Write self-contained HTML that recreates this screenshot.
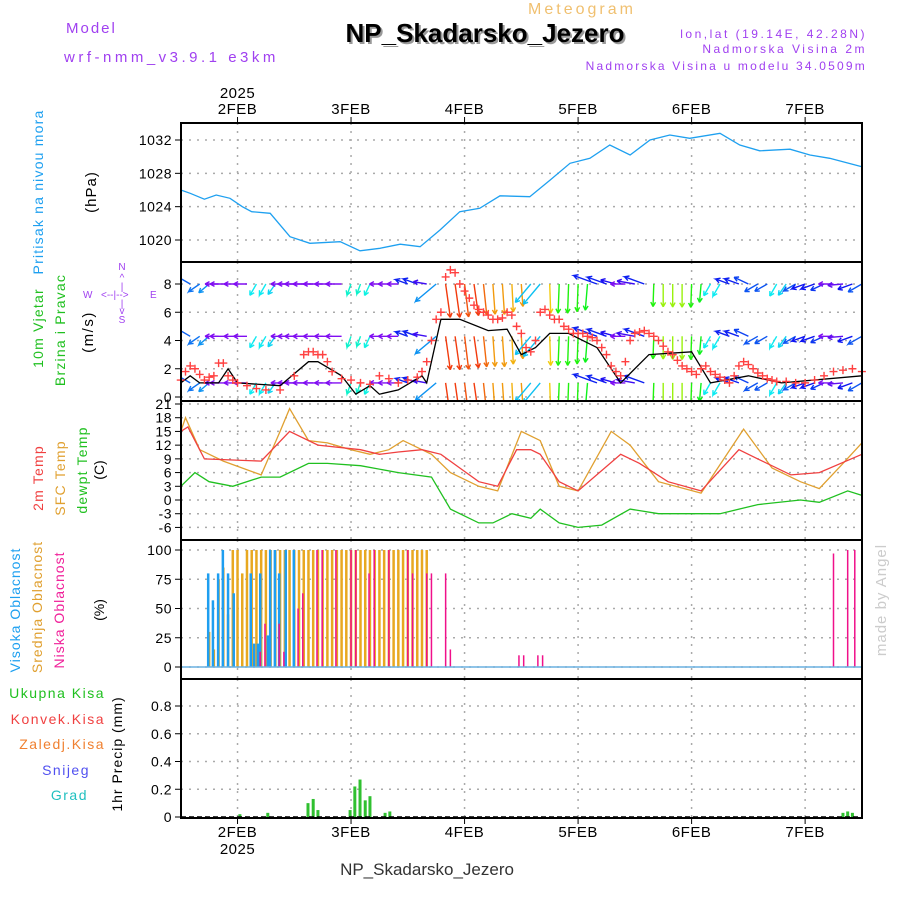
<!DOCTYPE html>
<html><head><meta charset="utf-8">
<style>
body{margin:0;background:#fff;width:900px;height:900px;overflow:hidden;font-family:"Liberation Sans",sans-serif}
svg text{font-family:"Liberation Sans",sans-serif}
</style></head>
<body>
<svg id="chart" width="900" height="900" xmlns="http://www.w3.org/2000/svg">
<text x="582" y="14" fill="#f0c070" font-size="16" text-anchor="middle" letter-spacing="3">Meteogram</text>
<text x="487" y="44" fill="#999" font-size="26" font-weight="bold" text-anchor="middle" font-family="Liberation Mono">NP_Skadarsko_Jezero</text>
<text x="485" y="42" fill="#000" font-size="26" font-weight="bold" text-anchor="middle" font-family="Liberation Mono">NP_Skadarsko_Jezero</text>
<text x="66" y="33" fill="#a040f0" font-size="15" letter-spacing="2">Model</text>
<text x="64" y="62" fill="#a040f0" font-size="15" letter-spacing="3.5">wrf-nmm_v3.9.1 e3km</text>
<text x="867" y="38" fill="#a040f0" font-size="12" text-anchor="end" letter-spacing="2.5">lon,lat (19.14E, 42.28N)</text>
<text x="867" y="53" fill="#a040f0" font-size="12" text-anchor="end" letter-spacing="2.5">Nadmorska Visina 2m</text>
<text x="867" y="70" fill="#a040f0" font-size="12" text-anchor="end" letter-spacing="2.2">Nadmorska Visina u modelu 34.0509m</text>
<text x="427" y="875" fill="#333" font-size="17" text-anchor="middle" font-family="Liberation Mono">NP_Skadarsko_Jezero</text>
<text transform="translate(886,600) rotate(-90)" fill="#ccc" font-size="15" text-anchor="middle" font-family="Liberation Serif" letter-spacing="1">made by Angel</text>

<text transform="translate(43,192) rotate(-90)" fill="#1ea0f0" font-size="14" text-anchor="middle" letter-spacing="1.2">Pritisak na nivou mora</text>
<text transform="translate(96,192) rotate(-90)" fill="#000" font-size="15" text-anchor="middle" letter-spacing="1">(hPa)</text>
<text transform="translate(43,328) rotate(-90)" fill="#20c020" font-size="14" text-anchor="middle" letter-spacing="1.2">10m Vjetar</text>
<text transform="translate(65,330) rotate(-90)" fill="#20c020" font-size="14" text-anchor="middle" letter-spacing="1.2">Brzina i Pravac</text>
<text transform="translate(93,332) rotate(-90)" fill="#000" font-size="15" text-anchor="middle" letter-spacing="1.5">(m/s)</text>
<g fill="#a040f0" font-size="10">
<text x="122" y="270" text-anchor="middle">N</text>
<text x="122" y="281" text-anchor="middle">^</text>
<text x="122" y="290" text-anchor="middle">|</text>
<text x="83" y="298">W</text>
<text x="101" y="298">&lt;--|--&gt;</text>
<text x="150" y="298">E</text>
<text x="122" y="307" text-anchor="middle">|</text>
<text x="122" y="314" text-anchor="middle">v</text>
<text x="122" y="323" text-anchor="middle">S</text>
</g>
<text transform="translate(43,478) rotate(-90)" fill="#f04040" font-size="14" text-anchor="middle" letter-spacing="1.2">2m Temp</text>
<text transform="translate(65,478) rotate(-90)" fill="#e0a030" font-size="14" text-anchor="middle" letter-spacing="1.2">SFC Temp</text>
<text transform="translate(87,470) rotate(-90)" fill="#20c020" font-size="14" text-anchor="middle" letter-spacing="1.2">dewpt Temp</text>
<text transform="translate(104,470) rotate(-90)" fill="#000" font-size="14" text-anchor="middle">(C)</text>
<text transform="translate(20,610) rotate(-90)" fill="#1ea0f0" font-size="14" text-anchor="middle" letter-spacing="1">Visoka Oblacnost</text>
<text transform="translate(42,607) rotate(-90)" fill="#e0a030" font-size="14" text-anchor="middle" letter-spacing="1">Srednja Oblacnost</text>
<text transform="translate(64,610) rotate(-90)" fill="#f0209a" font-size="14" text-anchor="middle" letter-spacing="1">Niska Oblacnost</text>
<text transform="translate(104,610) rotate(-90)" fill="#000" font-size="14" text-anchor="middle">(%)</text>
<text x="105" y="698" fill="#20c020" font-size="14" text-anchor="end" letter-spacing="1.5">Ukupna Kisa</text>
<text x="105" y="724" fill="#f04040" font-size="14" text-anchor="end" letter-spacing="1.5">Konvek.Kisa</text>
<text x="105" y="749" fill="#f08030" font-size="14" text-anchor="end" letter-spacing="1.5">Zaledj.Kisa</text>
<text x="90" y="775" fill="#5050f0" font-size="14" text-anchor="end" letter-spacing="1.5">Snijeg</text>
<text x="88" y="800" fill="#20c0c0" font-size="14" text-anchor="end" letter-spacing="1.5">Grad</text>
<text transform="translate(122,754) rotate(-90)" fill="#000" font-size="14" text-anchor="middle" letter-spacing="1">1hr Precip (mm)</text>
<g id="g"></g>
</svg>
<script>
// ---- data (hours from 1FEB 00Z) ----
const dayLabels=["2FEB","3FEB","4FEB","5FEB","6FEB","7FEB"];
const dayHours=[24,48,72,96,120,144];
const presHours=[12,14,17,19.5,22.4,25,27,30.9,35.1,39.3,45.7,49.9,54.1,58.4,62.6,66.8,71.0,75.2,79.5,85.8,90.1,94.3,98.5,102.7,107.0,111.2,115.4,119.6,126.0,130.2,134.4,140.8,145.0,149.2,156];
const presVals=[1026.0,1025.6,1024.9,1025.4,1025.0,1024.0,1023.4,1023.2,1020.4,1019.6,1019.8,1018.7,1019.0,1019.5,1019.2,1021.2,1023.4,1023.8,1025.3,1025.2,1027.2,1029.2,1029.8,1031.4,1030.2,1032.0,1032.6,1032.2,1032.8,1031.4,1030.7,1030.9,1030.2,1029.8,1028.8];
const presTicks=[1020,1024,1028,1032];
const windHours=[12,14,16,18,20,22,24,33,39,41,46,49,52,54,58,63,64,67,71,77,81,84,87,90,94,100,105,111,120,124,132,139,156];
const windSpeed=[1,1.5,1,1,1,2,1,0.8,2.5,2.5,1.5,0.2,0.8,0.2,0.5,1.5,1,5.5,5.5,4.7,4.8,3,3.5,4.5,4.5,3.5,1,3,3.2,1,1.5,1,1.5];
const gustHours=[12,13,14,15,16,17,18,19,20,21,22,23,24,26,28,30,33,36,38,39,40,41,42,43,44,46,48,50,52,54,56,58,60,62,63,64,65,66,67,68,69,70,71,72,73,74,75,76,77,78,79,80,81,82,83,84,85,86,87,88,89,90,91,92,93,94,95,96,97,98,99,100,101,102,103,104,105,106,107,108,109,110,111,112,113,114,115,116,117,118,119,120,121,122,123,124,125,126,127,128,129,130,131,132,133,134,135,136,137,138,140,142,144,146,148,150,152,154,156];
const gustVals=[1.2,1.8,2.2,2,1.6,1.2,1.4,1.5,2.4,2.4,1.5,1.2,1.0,0.8,0.6,0.5,0.5,1.5,3,3.2,3.2,3,3,2.5,1.8,1.3,1.2,1.0,0.9,1.5,1.3,1,1.2,1.4,1.8,2.5,4,5.5,6,8.5,9,8.8,8,7.5,7,6.5,6.2,6,5.8,5.5,5.5,5.6,6,5.8,5,4.5,3.5,3.2,4,6,6.2,5.8,5.5,5.5,5,4.8,4.5,4.5,4.5,4.3,4.2,4,3.5,3,2.2,1.8,1.5,2.5,4,4.5,4.6,4.7,4.5,4.3,4,3.6,3.2,3,2.6,2.2,2,1.8,1.6,2,2.2,1.8,1.6,1.4,1.2,1.0,1.5,2.2,2.5,2.3,2,1.7,1.5,1.3,1.2,1.1,1.1,1,1,1.2,1.5,1.8,1.9,2,1.8];
const arrowHours=[12,14,16,18,20,22,24,26,28,30,32,34,36,38,40,42,44,46,48,50,52,54,56,58,60,62,64,66,68,70,72,74,76,78,80,82,84,86,88,90,92,94,96,98,100,102,104,106,108,110,112,114,116,118,120,122,124,126,128,130,132,134,136,138,140,142,144,146,148,150,152,154,156];
const arrowDir=[215,210,145,140,180,180,180,180,120,120,125,180,180,180,180,180,180,180,110,110,115,180,180,180,200,200,190,140,82,82,83,82,84,86,86,87,86,130,130,88,92,92,92,95,200,200,195,180,190,200,92,90,90,90,92,95,120,120,200,200,205,150,150,120,125,150,160,160,155,180,175,160,150];
const arrowRows=[8,4.3,1];
const windTicks=[0,2,4,6,8];
const tHours2m=[12,13.5,17,29,35,41,50,54,58,63,67,71,75,79,83,86,88,92,96,105,109,115,122,130,134,141,147,156];
const t2m=[15,16,9,8.5,15,12,11,10,10.5,11,10,7,4,3,11,11,10,4,2,10,8,4,2,11,9,5.5,6,10];
const tHoursSfc=[12,13,16,21,29,33,35,39,43,48,52,56,59,65,69,75,79,84,88,92,96,103,107,113,122,131,137,143,147,152,156];
const tSfc=[15,18,11,8.5,5.5,15,20,13,12.5,11,10,11,13,10,6,3,2,15,13,3,2,15,12,4,1.5,15.5,7,4,2.5,8,12.5];
const tHoursDew=[12,15,18,23,29,33,39,43,50,58,65,69,75,78,82,86,88,92,96,101,107,113,122,126,134,143,147,153,156];
const tDew=[3,6,4,3,5,5,8,8,7.5,6,5,-2,-5,-5,-3,-4,-2,-5,-6,-5.5,-2,-3,-3,-3,-1,0,-0.5,2,1];
const tempTicks=[-6,-3,0,3,6,9,12,15,18,21];
const highHours=[17.8,18.8,19.9,20.9,22,23.2,26.8,27.5,28.3,28.8,30.4,30.9,31.9,32.8,34.2,35.9];
const highVals=[80,57,80,100,80,63,80,20,20,80,27,100,100,80,100,100];
const midHours=[18,19,20,21,22,23,24,25,26,27,28,29,30,31,32,33,34,35,36,37,38,39,40,41,42,43,44,45,46,47,48,49,50,51,52,53,54,55,56,57,58,59,60,61,62,63,64];
const midVals=[30,15,75,85,45,100,100,80,100,100,100,100,100,100,100,100,100,100,100,100,100,100,100,100,100,100,100,100,100,100,100,100,100,100,100,100,100,100,100,100,100,100,100,100,100,100,100];
const lowHours=[28.8,29.8,32.8,33.8,36.8,37.8,40.8,41.9,44.8,48,49,51.8,52.9,56,60,61,64,65,68,69,83.5,84.5,87.5,88.5,150,153,154.5];
const lowVals=[13,37,37,13,50,63,100,100,100,100,100,80,100,100,100,80,80,80,80,15,10,10,10,10,97,100,100];
const cloudTicks=[0,25,50,75,100];
const precipHours=[24.5,30.4,38.9,40,41,47.8,48.8,49.9,51,52,55.2,56.2,152,153,154];
const precipVals=[0.02,0.03,0.1,0.13,0.05,0.05,0.22,0.27,0.12,0.15,0.03,0.04,0.03,0.04,0.03];
const precipTicks=[0,0.2,0.4,0.6,0.8];

// ---- layout ----
const X0=181,X1=862;
const xh=h=>124+h*4.73;
const panels={pres:[123,262],wind:[262,401],temp:[401,540],cloud:[540,679],prec:[679,818]};
const ys=(v0,y0,v1,y1)=>v=>y0+(v-v0)*(y1-y0)/(v1-v0);
const yP=ys(1020,240,1032,140),yW=ys(0,397,8,284),yT=ys(0,500,21,404),yC=ys(0,667,100,550),yR=ys(0,817,0.8,706);
const g=document.getElementById('g');const NS="http://www.w3.org/2000/svg";
function mk(tag,at,parent){const e=document.createElementNS(NS,tag);for(const k in at)e.setAttribute(k,at[k]);(parent||g).appendChild(e);return e;}
function txt(s,at){const e=mk('text',at);e.textContent=s;return e;}
const defs=mk('defs',{});
const cp=mk('clipPath',{id:'windclip'},defs);mk('rect',{x:X0,y:262,width:X1-X0,height:139},cp);

for(const key in panels){const [t,b]=panels[key];
  const gridG=mk('g',{});
  
  
  dayHours.forEach(h=>{mk('line',{x1:xh(h),x2:xh(h),y1:t,y2:b,stroke:'#aaa','stroke-dasharray':'2,6','stroke-width':1.5},gridG);});
}
function yGrid(ticks,yf,name,fmt){ticks.forEach(v=>{const y=yf(v);
  const l=mk('line',{x1:X0,x2:X1,y1:y,y2:y,stroke:'#aaa','stroke-dasharray':'2,6','stroke-width':1.5});
  
  
  mk('line',{x1:X0-6,x2:X0,y1:y,y2:y,stroke:'#000'});
  const t=txt(fmt?fmt(v):String(v),{x:X0-9,y:y+5,'font-size':14,'text-anchor':'end',fill:'#000','letter-spacing':0.5});
  
  });}
yGrid(presTicks,yP,'pressure');yGrid(windTicks,yW,'wind');yGrid(tempTicks,yT,'temp');yGrid(cloudTicks,yC,'cloud');yGrid(precipTicks,yR,'precip',v=>v===0?'0':v.toFixed(1));

function line(hs,vs,yf,color,name,w){const d=hs.map((h,i)=>(i?'L':'M')+xh(h).toFixed(1)+','+yf(vs[i]).toFixed(1)).join('');
  const p=mk('path',{d,fill:'none',stroke:color,'stroke-width':w||1.3});
  
  }
line(presHours,presVals,yP,'#1ea0f0','pressure-line');

// wind arrows
const hueStops=[[80,0],[85,30],[88,50],[92,115],[110,170],[140,205],[180,270],[220,200]];
function hueFor(a){if(a<=hueStops[0][0])return hueStops[0][1];for(let i=1;i<hueStops.length;i++){const [a1,h1]=hueStops[i],[a0,h0]=hueStops[i-1];if(a<=a1)return h0+(a-a0)*(h1-h0)/(a1-a0);}return hueStops[hueStops.length-1][1];}
function spAt(h){for(let i=1;i<windHours.length;i++){if(h<=windHours[i]){const t=(h-windHours[i-1])/(windHours[i]-windHours[i-1]);return windSpeed[i-1]+t*(windSpeed[i]-windSpeed[i-1]);}}return windSpeed[windSpeed.length-1];}
const wg=mk('g',{'clip-path':'url(#windclip)'});


arrowRows.forEach(rv=>{arrowHours.forEach((h,i)=>{const a=arrowDir[i]*Math.PI/180;const L=9+4.5*spAt(h);
  const x=xh(h),y=yW(rv);const x2=x+Math.cos(a)*L,y2=y+Math.sin(a)*L;const c='hsl('+hueFor(arrowDir[i]).toFixed(0)+',90%,50%)';
  const ar=mk('path',{d:`M${x.toFixed(1)},${y.toFixed(1)}L${x2.toFixed(1)},${y2.toFixed(1)}l${(-Math.cos(a-0.5)*5).toFixed(1)},${(-Math.sin(a-0.5)*5).toFixed(1)}M${x2.toFixed(1)},${y2.toFixed(1)}l${(-Math.cos(a+0.5)*5).toFixed(1)},${(-Math.sin(a+0.5)*5).toFixed(1)}`,stroke:c,'stroke-width':1.4,fill:'none'},wg);
  
  });});
line(windHours,windSpeed,yW,'#000','wind-speed-line',1.3);
gustHours.forEach((h,i)=>{const x=xh(h),y=yW(gustVals[i]);
  const c=mk('path',{d:`M${x-4},${y}h8M${x},${y-4}v8`,stroke:'#ff4040','stroke-width':1.4});
  
  });

line(tHoursSfc,tSfc,yT,'#e0a030','sfc-temp-line');
line(tHours2m,t2m,yT,'#f04040','temp-2m-line');
line(tHoursDew,tDew,yT,'#20c020','dewpoint-line');

function bars(hs,vs,yf,color,name,w){hs.forEach((h,i)=>{const y=yf(vs[i]),y0=yf(0);
  const r=mk('rect',{x:xh(h)-w/2,y:y,width:w,height:Math.max(0,y0-y),fill:color});
  
  });}
bars(midHours,midVals,yC,'#e8a820','mid-cloud-bar',2.5);
bars(highHours,highVals,yC,'#1e9ef0','high-cloud-bar',2.5);
bars(lowHours,lowVals,yC,'#f0108a','low-cloud-bar',1.5);
mk('line',{x1:X0,x2:X1,y1:yC(0),y2:yC(0),stroke:'#6ab0e0','stroke-width':1.5});
bars(precipHours,precipVals,yR,'#30c030','precip-bar',3);
mk('line',{x1:X0,x2:X1,y1:yR(0),y2:yR(0),stroke:'#000','stroke-width':1.5,'stroke-dasharray':'5,3'});

for(const key in panels){const [t,b]=panels[key];
  const r=mk('rect',{x:X0,y:t,width:X1-X0,height:b-t,fill:'none',stroke:'#000','stroke-width':2});
  
  }
dayHours.forEach((h,i)=>{const x=xh(h);
  mk('line',{x1:x,x2:x,y1:123,y2:117,stroke:'#000'});mk('line',{x1:x,x2:x,y1:818,y2:824,stroke:'#000'});
  const t1=txt(dayLabels[i],{x:x,y:114,'font-size':15,'text-anchor':'middle',fill:'#000','letter-spacing':0.5});
  
  
  const t2=txt(dayLabels[i],{x:x,y:837,'font-size':15,'text-anchor':'middle',fill:'#000','letter-spacing':0.5});
  
  });
const y1=txt('2025',{x:xh(24),y:98,'font-size':15,'text-anchor':'middle',fill:'#000','letter-spacing':0.5});


const y2=txt('2025',{x:xh(24),y:854,'font-size':15,'text-anchor':'middle',fill:'#000','letter-spacing':0.5});


</script>
</body></html>
